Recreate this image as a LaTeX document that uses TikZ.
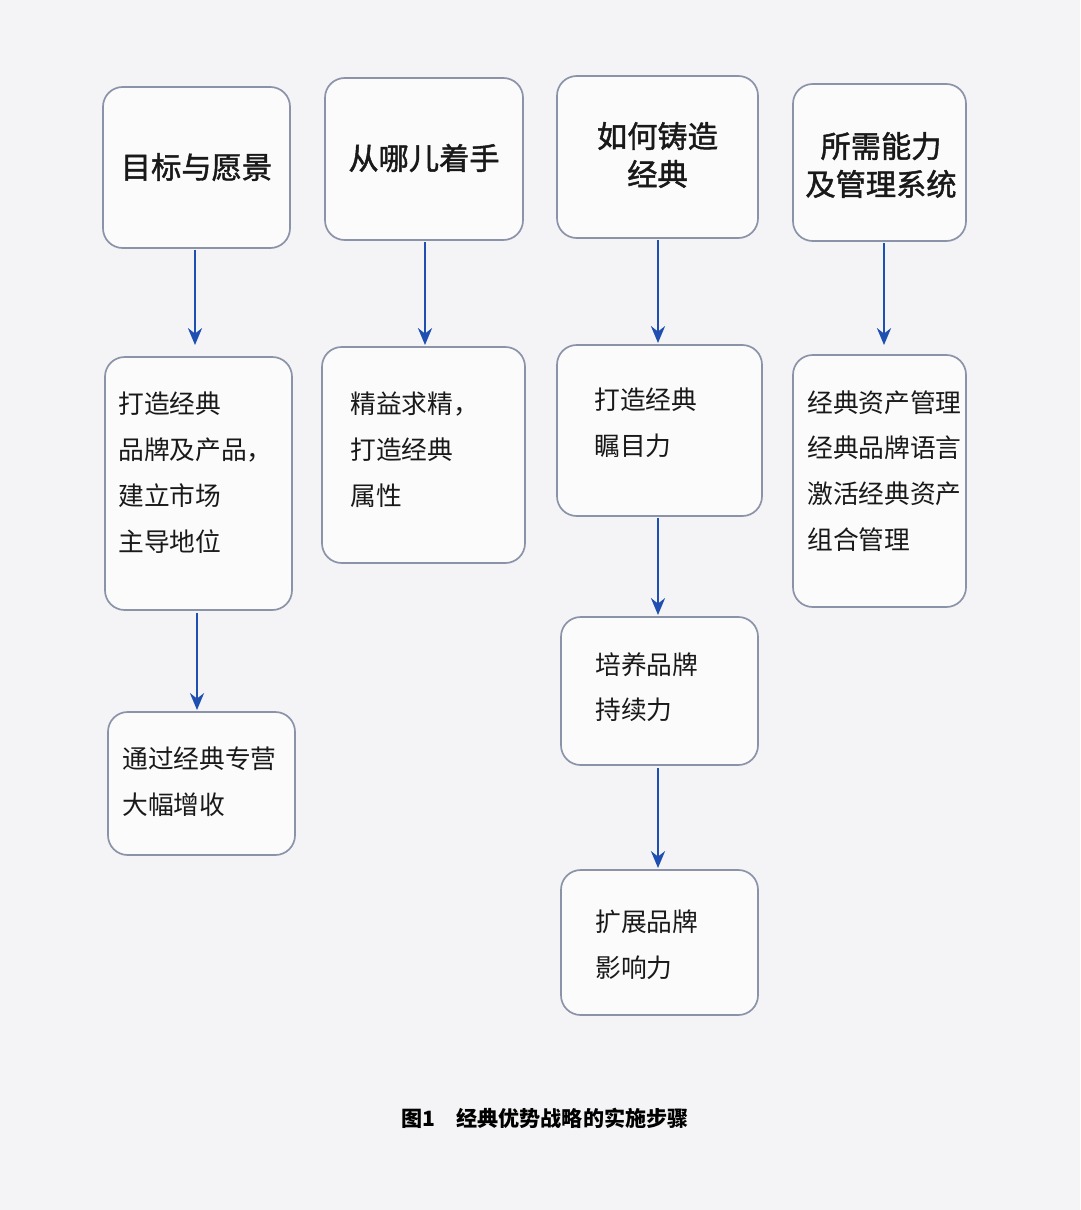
\documentclass[tikz,border=0pt]{standalone}
\usepackage{fontspec}
\newfontfamily\cjk{Noto Sans CJK SC}
\newfontfamily\cjkb{Noto Sans CJK SC}[FakeBold=1.5]
\usetikzlibrary{arrows.meta}
\definecolor{bord}{HTML}{8A93A8}
\definecolor{arr}{HTML}{1F4FB0}
\definecolor{bg}{HTML}{F4F4F6}
\begin{document}
\begin{tikzpicture}[x=0.025cm,y=-0.025cm,
  box/.style={draw=bord,line width=1.2pt,rounded corners=14pt,fill=white!60!bg},
  head/.style={font=\cjkb\fontsize{21.5}{27}\selectfont,align=center,text=black!90},
  body/.style={font=\cjk\fontsize{18.3}{32.6}\selectfont,align=left,anchor=north west,inner sep=0pt,text=black!90},
  ar/.style={draw=arr,line width=1.8pt,-{Stealth[length=12pt,width=10pt]}}]
\fill[bg] (0,0) rectangle (1080,1210);
% top row
\draw[box] (103,87) rectangle (290,248); \node[head] (t1) at (196.5,167) {目标与愿景};
\draw[box] (325,78) rectangle (523,240); \node[head] (t2) at (424,158) {从哪儿着手};
\draw[box] (557,76) rectangle (758,238); \node[head] (t3) at (657.5,155) {如何铸造\\经典};
\draw[box] (793,84) rectangle (966,241); \node[head] (t4) at (881,165) {所需能力\\及管理系统};
% second row
\draw[box] (105,357) rectangle (292,610);
\node[body] (b1) at (118,392) {打造经典\\品牌及产品，\\建立市场\\主导地位};
\draw[box] (322,347) rectangle (525,563);
\node[body] (b2) at (350,392) {精益求精，\\打造经典\\属性};
\draw[box] (557,345) rectangle (762,516);
\node[body] (b3) at (594,388) {打造经典\\瞩目力};
\draw[box] (793,355) rectangle (966,607);
\node[body] (b4) at (807,390) {经典资产管理\\经典品牌语言\\激活经典资产\\组合管理};
% third row
\draw[box] (108,712) rectangle (295,855);
\node[body] (c1) at (122,747) {通过经典专营\\大幅增收};
\draw[box] (561,617) rectangle (758,765);
\node[body] (c2) at (595,652) {培养品牌\\持续力};
\draw[box] (561,870) rectangle (758,1015);
\node[body] (c3) at (595,910) {扩展品牌\\影响力};
% arrows
\coordinate (a1s) at (195,250); \coordinate (a1e) at (195,345);
\coordinate (a2s) at (425,242); \coordinate (a2e) at (425,345);
\coordinate (a3s) at (658,240); \coordinate (a3e) at (658,343);
\coordinate (a4s) at (884,243); \coordinate (a4e) at (884,345);
\coordinate (a5s) at (197,613); \coordinate (a5e) at (197,710);
\coordinate (a6s) at (658,518); \coordinate (a6e) at (658,615);
\coordinate (a7s) at (658,768); \coordinate (a7e) at (658,868);
\foreach \i in {1,...,7} \draw[ar] (a\i s) -- (a\i e);
\node[font=\cjk\bfseries\fontsize{15}{17}\selectfont] (cap) at (545,1118) {图1\quad 经典优势战略的实施步骤};
\end{tikzpicture}
\end{document}
